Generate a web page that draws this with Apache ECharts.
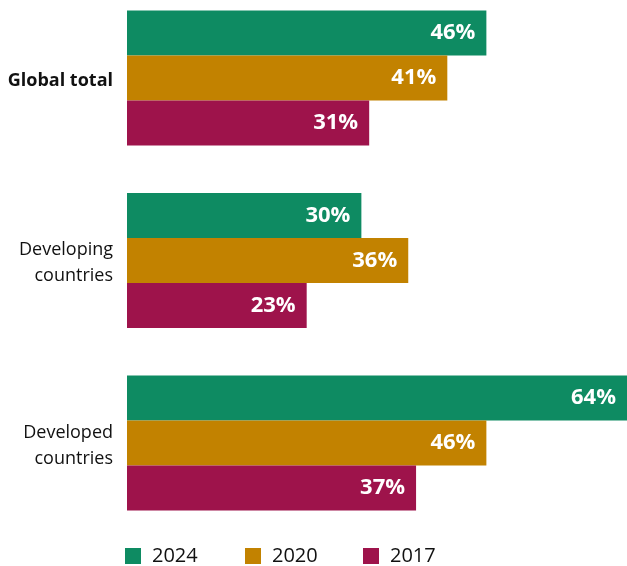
<!DOCTYPE html>
<html>
<head>
<meta charset="utf-8">
<style>
  html, body { margin: 0; padding: 0; background: #ffffff; }
  #chart { width: 627px; height: 566px; }
</style>
<script src="https://cdn.jsdelivr.net/npm/echarts@6/dist/echarts.min.js"></script>
</head>
<body>
<div id="chart"></div>
<script>
// Share of population, by region and survey year (%)
const categories = ['Global total', 'Developing\ncountries', 'Developed\ncountries'];
const years = ['2024', '2020', '2017'];
const values2024 = [46, 30, 64];
const values2020 = [41, 36, 46];
const values2017 = [31, 23, 37];
const colors = ['#0e8b62', '#c28200', '#9e134b'];

const FONT = '"Open Sans", "Noto Sans", sans-serif';
const seriesValues = [values2024, values2020, values2017];

const chart = echarts.init(document.getElementById('chart'), null, { renderer: 'canvas' });

const series = years.map((y, i) => ({
  name: y,
  type: 'bar',
  data: seriesValues[i],
  barGap: '0%',
  barCategoryGap: '26%',
  itemStyle: { color: colors[i] },
  label: {
    show: true,
    position: 'insideRight',
    distance: 11,
    formatter: p => p.value + '%',
    color: '#ffffff',
    fontFamily: FONT,
    fontWeight: 'bold',
    fontSize: 22
  },
  silent: true,
  animation: false
}));

const legendLefts = [125, 245, 363];
const legends = years.map((y, i) => ({
  data: [y],
  left: legendLefts[i],
  top: 546,
  padding: 0,
  itemWidth: 16,
  itemHeight: 16,
  icon: 'rect',
  textStyle: {
    fontFamily: FONT,
    fontSize: 20,
    color: '#111111',
    padding: [0, 0, 0, 6]
  },
  selectedMode: false
}));

chart.setOption({
  animation: false,
  legend: legends,
  grid: {
    left: 127, right: 0, top: -13.25, height: 547.5,
    outerBoundsMode: 'none', containLabel: false
  },
  xAxis: {
    type: 'value',
    min: 0,
    max: 64,
    show: false
  },
  yAxis: {
    type: 'category',
    data: categories,
    inverse: true,
    axisLine: { show: false },
    axisTick: { show: false },
    axisLabel: {
      margin: 14,
      padding: [5, 0, 0, 0],
      fontFamily: FONT,
      fontSize: 18,
      lineHeight: 26,
      color: '#111111',
      formatter: (v, idx) => idx === 0 ? '{b|' + v + '}' : v,
      rich: {
        b: { fontFamily: FONT, fontSize: 18, fontWeight: 'bold', color: '#111111' }
      }
    }
  },
  series: series
});
</script>
</body>
</html>
